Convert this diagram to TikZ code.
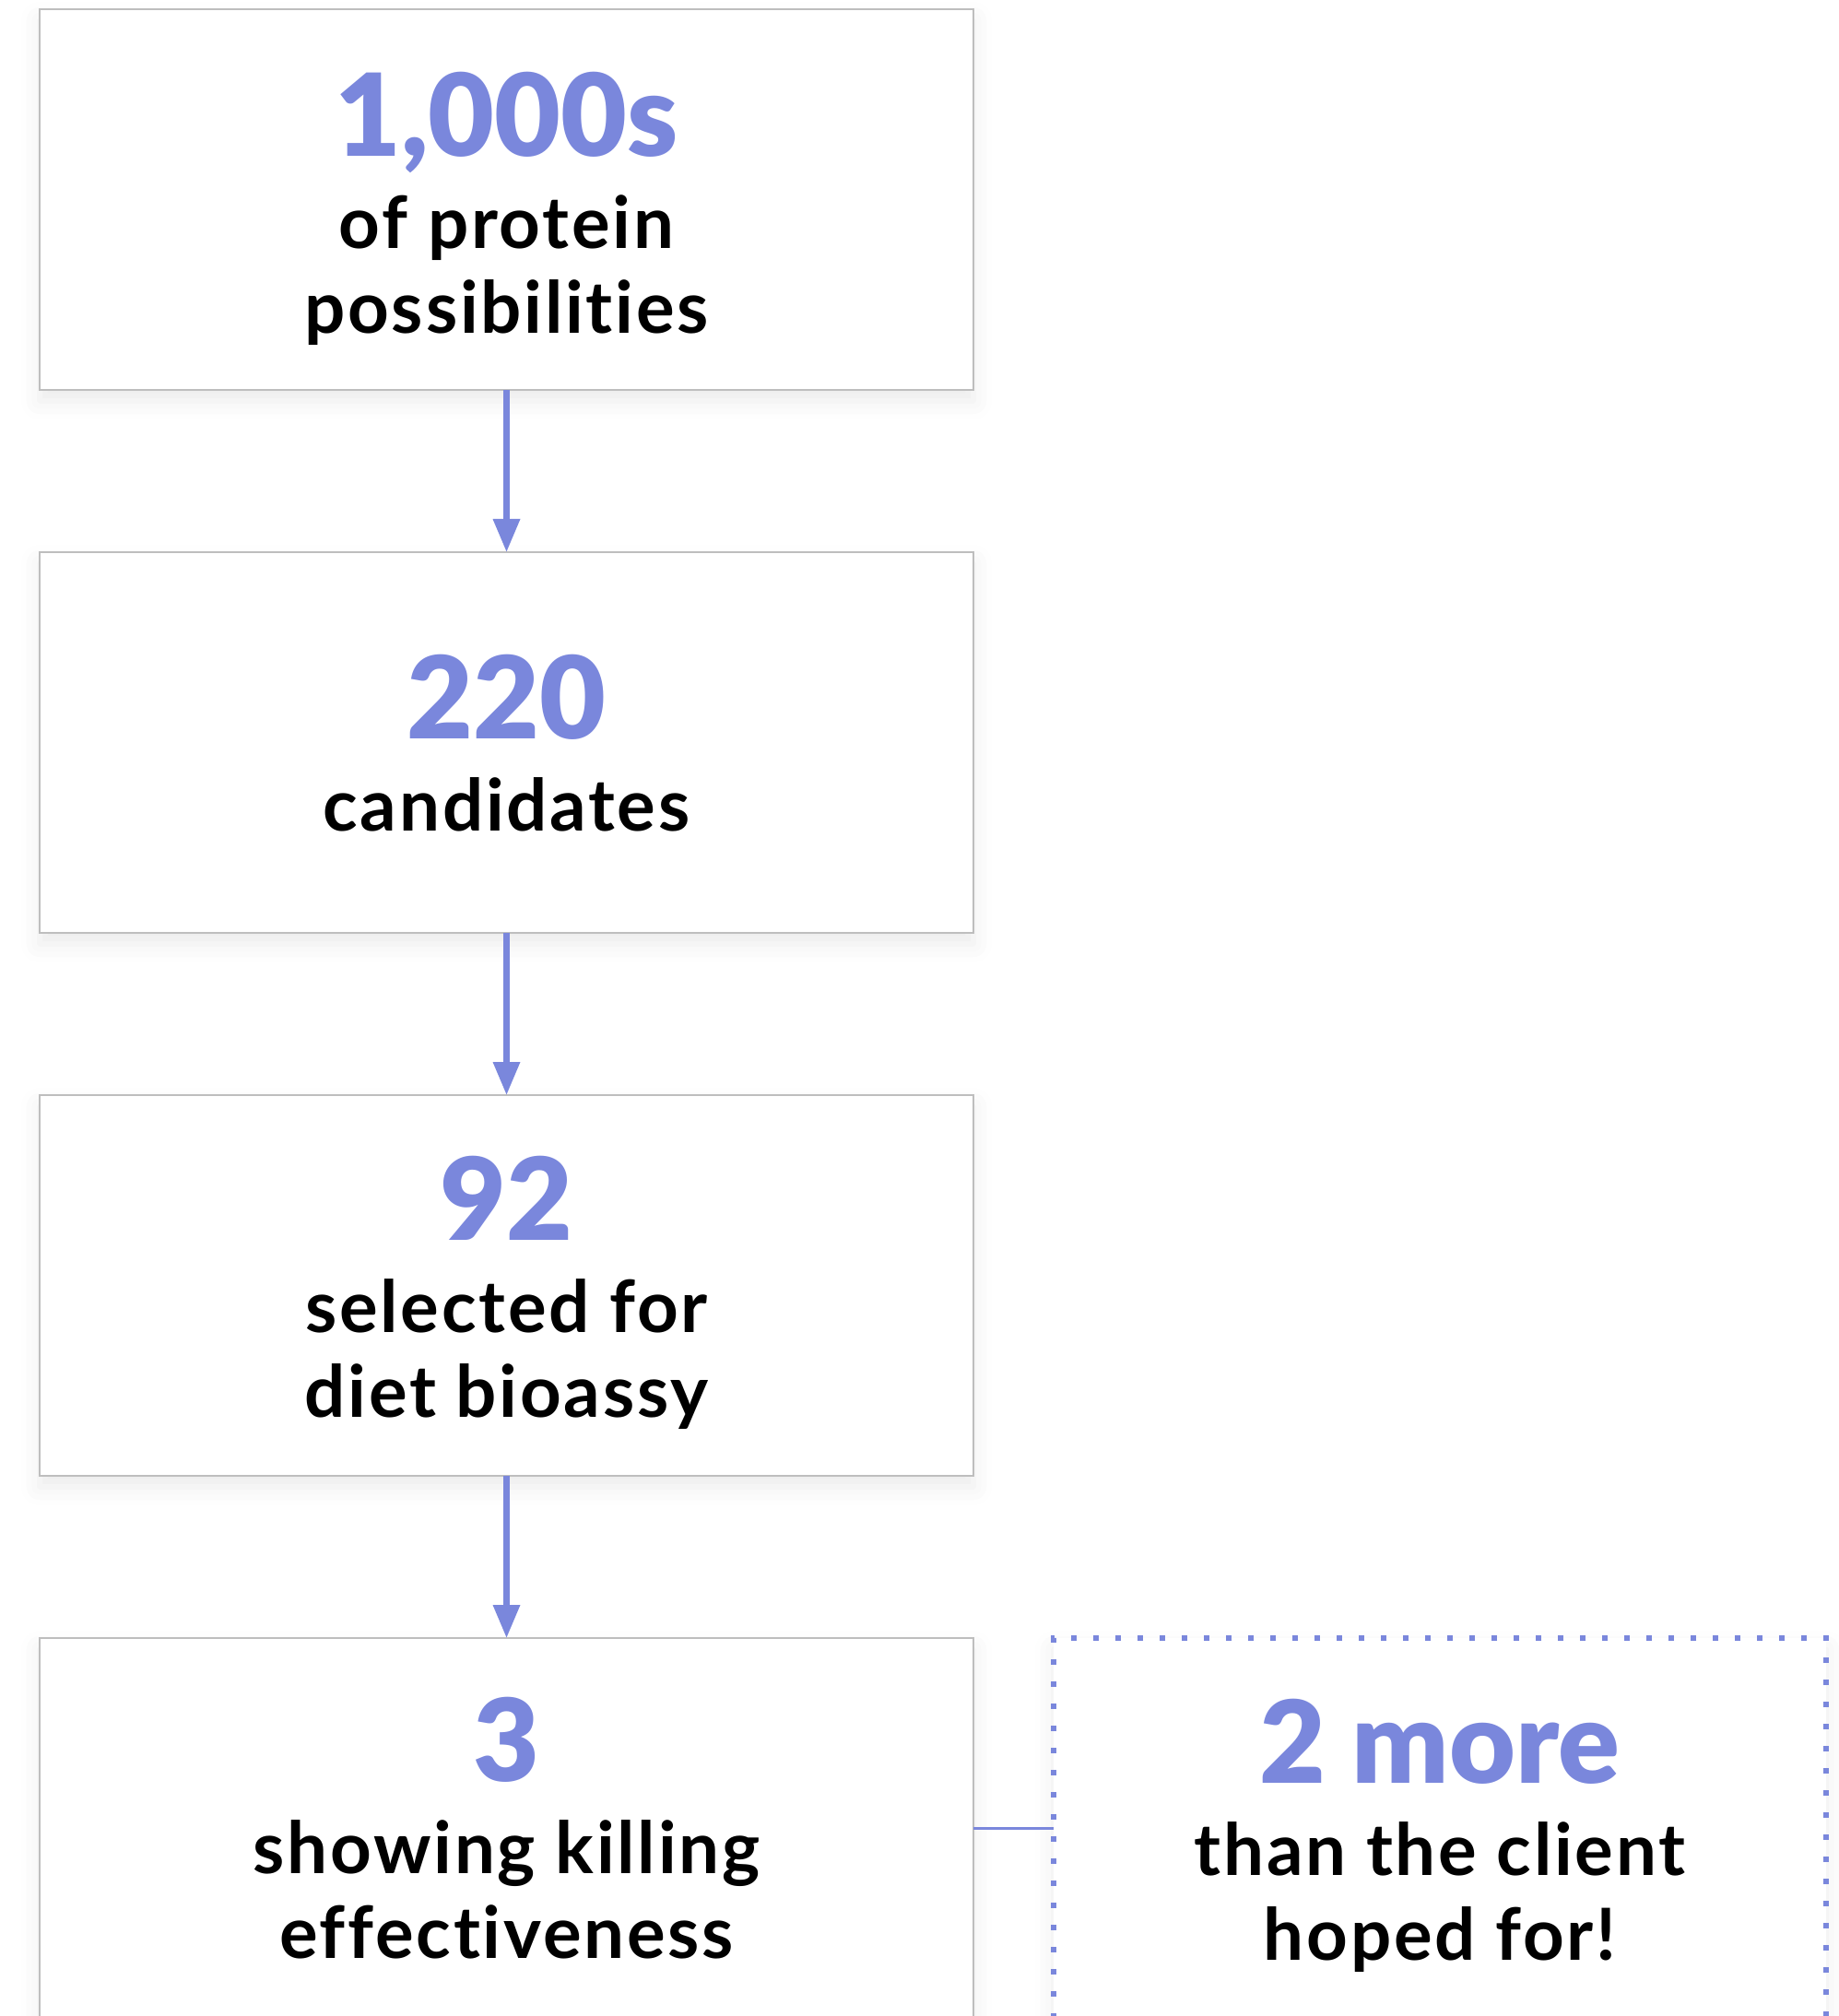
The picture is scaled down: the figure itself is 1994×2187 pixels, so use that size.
\documentclass[tikz,border=0pt]{standalone}
\usepackage{fontspec}
\usepackage{tikz}
\usetikzlibrary{arrows.meta,positioning,shadows.blur}
\setmainfont{Lato}
\newfontfamily\numfont{Lato Black}
\newfontfamily\txtfont{Lato Bold}[LetterSpace=3.5, Ligatures=NoCommon]
\definecolor{periwinkle}{RGB}{122,135,220}
\definecolor{edgegray}{RGB}{190,190,190}
\newcommand{\bignum}[1]{{\numfont\fontsize{62}{62}\selectfont\color{periwinkle}#1}}

\begin{document}
\begin{tikzpicture}[x=0.5pt, y=-0.5pt, node distance=88pt,
            stage/.style={draw=edgegray, line width=1pt, fill=white,
              minimum width=506.5pt, minimum height=206.5pt, inner sep=0pt, outer sep=0pt,
              blur shadow={shadow xshift=0pt, shadow yshift=-6pt, shadow blur radius=10pt, shadow opacity=8}},
            bonus/.style={stage, draw=periwinkle, line width=3pt, dash pattern=on 3pt off 9pt,
              minimum width=419pt},
            caption/.style={align=center, inner sep=0pt, font=\txtfont\fontsize{39}{46}\selectfont},
            flow/.style={draw=periwinkle, line width=3.3pt, -{Triangle[width=14pt,length=18pt]}}]
        \useasboundingbox (0,0) rectangle (1994,2187);
        % the funnel
        \node[stage] (box1) at (549.5,216.5) {};
        \node[stage, below=of box1] (box2) {};
        \node[stage, below=of box2] (box3) {};
        \node[stage, below=of box3] (box4) {};
        \node[bonus, right=43.5pt of box4] (box5) {};
        \draw[flow] (box1) -- (box2);
        \draw[flow] (box2) -- (box3);
        \draw[flow] (box3) -- (box4);
        \draw[draw=periwinkle, line width=1.5pt] (box4) -- (box5);
        % texts
        \node[caption] (t1) at ([yshift=-5pt]box1.center) {\bignum{1,000s}\\[4pt]of protein\\possibilities};
        \node[caption] (t2) at ([yshift=-0.5pt]box2.center) {\bignum{220}\\[4pt]candidates};
        \node[caption] (t3) at ([yshift=-4pt]box3.center) {\bignum{92}\\[4pt]selected for\\diet bioassy};
        \node[caption] (t4) at (box4.center) {\bignum{3}\\[4pt]showing killing\\effectiveness};
        \node[caption] (t5) at ([yshift=-4pt]box5.center) {\bignum{2 more}\\[4pt]than the client\\hoped for!};
\end{tikzpicture}
\end{document}
